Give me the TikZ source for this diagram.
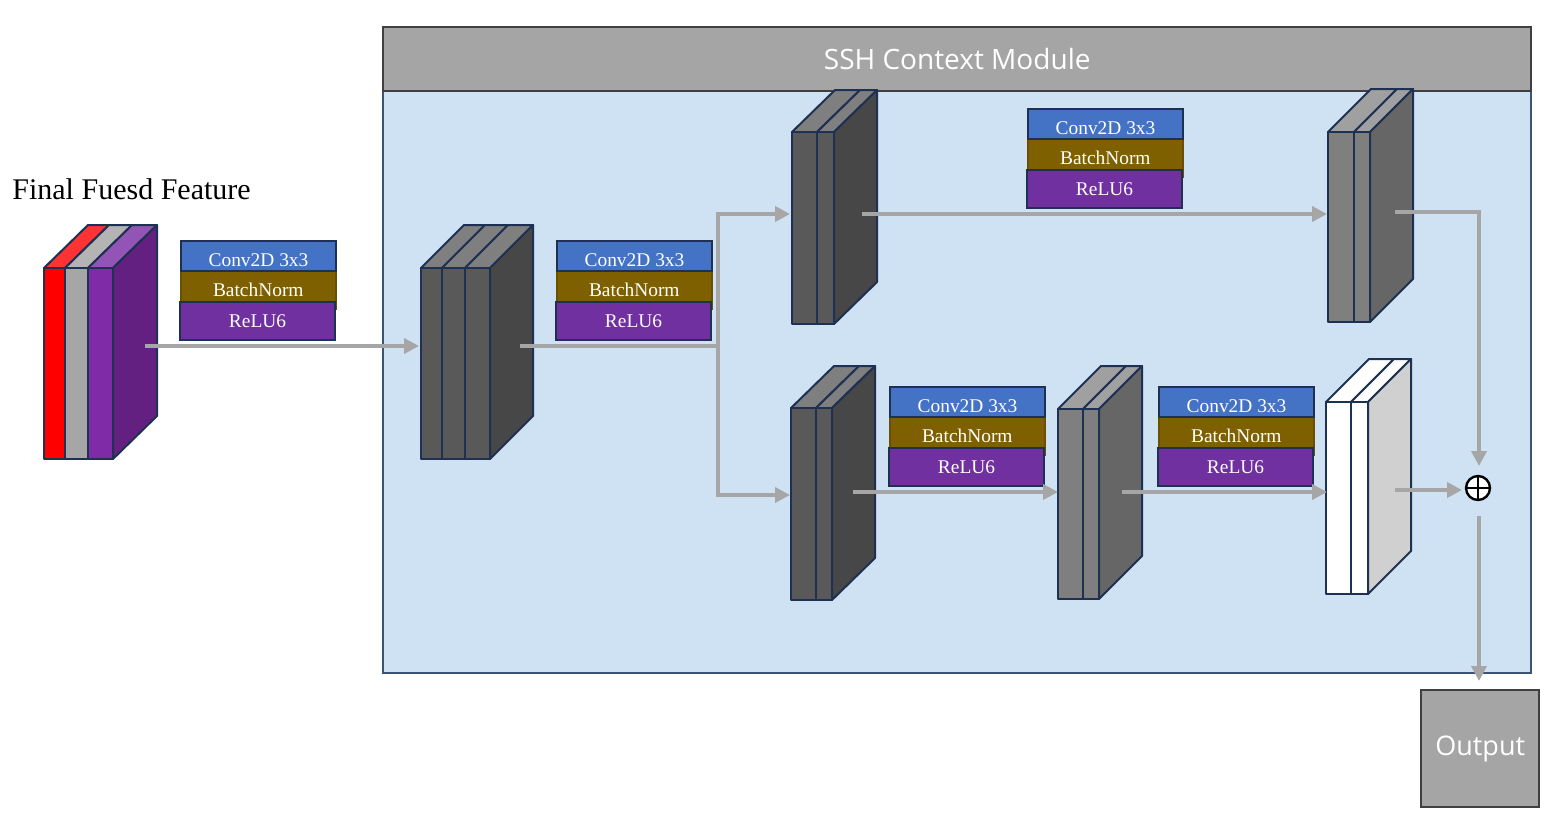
\documentclass[tikz,border=0pt]{standalone}
\usepackage{fontspec}
\setmainfont{Liberation Serif}
\newfontfamily\osans{Open Sans}
\usetikzlibrary{arrows.meta}
\definecolor{bodyblue}{HTML}{CFE2F3}
\definecolor{headgray}{HTML}{A5A5A5}
\definecolor{headline}{HTML}{404040}
\definecolor{bodyline}{HTML}{3D5373}
\definecolor{arrgray}{HTML}{A6A6A6}
\definecolor{navy}{HTML}{1F3153}
\definecolor{convblue}{HTML}{4472C4}
\definecolor{bnbrown}{HTML}{7F6000}
\definecolor{bnline}{HTML}{6A5000}
\definecolor{relupurple}{HTML}{7030A0}
\definecolor{dkfront}{HTML}{595959}
\definecolor{dktop}{HTML}{7F7F7F}
\definecolor{dkside}{HTML}{474747}
\definecolor{mdfront}{HTML}{7F7F7F}
\definecolor{mdtop}{HTML}{A0A0A0}
\definecolor{mdside}{HTML}{666666}
\definecolor{ltside}{HTML}{D0D0D0}
\definecolor{inred}{HTML}{FF0000}
\definecolor{inredtop}{HTML}{FF3333}
\definecolor{ingray}{HTML}{A6A6A6}
\definecolor{ingraytop}{HTML}{B4B4B4}
\definecolor{inpurple}{HTML}{7F2AA6}
\definecolor{inpurpletop}{HTML}{9355B5}
\definecolor{inpurpleside}{HTML}{632080}
\tikzset{
  slabline/.style={draw=navy, line width=1pt, line join=round},
  conn/.style={draw=arrgray, line width=2pt},
  arr/.style={conn, -{Triangle[length=7.5pt,width=7.5pt]}},
  layerbox/.style={anchor=north west, inner sep=0, minimum width=77.5pt, text=white, font=\fontsize{9.7}{11}\selectfont},
}
% one slab: x0, x1, ytop, ybottom, dx, dy, front colour, top colour
\newcommand\slabpiece[8]{%
  \filldraw[fill=#8,slabline] (#1,#3) -- (#2,#3) -- ++(#5,-#6) -- (#1+#5,#3-#6) -- cycle;
  \filldraw[fill=#7,slabline] (#1,#3) rectangle (#2,#4);}
% side face: x1, ytop, ybottom, dx, dy, colour
\newcommand\slabside[6]{%
  \filldraw[fill=#6,slabline] (#1,#2) -- ++(#4,-#5) -- (#1+#4,#3-#5) -- (#1,#3) -- cycle;}
% layer group: name suffix, x, y (top-left of Conv box)
\newcommand\layergroup[3]{%
  \node[layerbox, fill=bnbrown, draw=bnline, line width=0.8pt, minimum height=19pt] (bn#1) at (#2,#3+30) {BatchNorm};
  \node[layerbox, fill=convblue, draw=navy, line width=1pt, minimum height=15pt] (cv#1) at (#2,#3) {\raisebox{-5.4pt}[0pt][0pt]{Conv2D 3x3}};
  \node[layerbox, fill=relupurple, draw=navy, line width=1pt, minimum height=19pt] (rl#1) at (#2-1,#3+61) {ReLU6};}
\begin{document}
\begin{tikzpicture}[x=0.5pt,y=-0.5pt]
\useasboundingbox (0,0) rectangle (1546,815);
% module
\node[draw=bodyline, fill=bodyblue, line width=1pt, anchor=north west, inner sep=0, minimum width=574pt, minimum height=323pt] (module) at (382,26) {};
\node[draw=headline, fill=headgray, line width=1.2pt, anchor=north west, inner sep=0, minimum width=574pt, minimum height=32pt, text=white, font=\osans\fontsize{14}{16}\selectfont] (header) at (382,26) {SSH Context Module};
% title
\node[anchor=base west, inner sep=0, font=\fontsize{15}{18}\selectfont] (title) at (12,199) {Final Fuesd Feature};
% input feature
\slabpiece{44}{65}{268}{459}{44}{43}{inred}{inredtop}
\slabpiece{65}{88}{268}{459}{44}{43}{ingray}{ingraytop}
\slabpiece{88}{113}{268}{459}{44}{43}{inpurple}{inpurpletop}
\slabside{113}{268}{459}{44}{43}{inpurpleside}
% stack 2
\slabpiece{421}{442}{268}{459}{43}{43}{dkfront}{dktop}
\slabpiece{442}{465}{268}{459}{43}{43}{dkfront}{dktop}
\slabpiece{465}{490}{268}{459}{43}{43}{dkfront}{dktop}
\slabside{490}{268}{459}{43}{43}{dkside}
% stack 3 (top branch, first)
\slabpiece{792}{817}{132}{324}{43}{42}{dkfront}{dktop}
\slabpiece{817}{834}{132}{324}{43}{42}{dkfront}{dktop}
\slabside{834}{132}{324}{43}{42}{dkside}
% stack top right
\slabpiece{1328}{1354}{132}{322}{43}{43}{mdfront}{mdtop}
\slabpiece{1354}{1370}{132}{322}{43}{43}{mdfront}{mdtop}
\slabside{1370}{132}{322}{43}{43}{mdside}
% bottom A
\slabpiece{791}{816}{408}{600}{43}{42}{dkfront}{dktop}
\slabpiece{816}{832}{408}{600}{43}{42}{dkfront}{dktop}
\slabside{832}{408}{600}{43}{42}{dkside}
% bottom B
\slabpiece{1058}{1083}{409}{599}{43}{43}{mdfront}{mdtop}
\slabpiece{1083}{1099}{409}{599}{43}{43}{mdfront}{mdtop}
\slabside{1099}{409}{599}{43}{43}{mdside}
% bottom C
\slabpiece{1326}{1351}{402}{594}{43}{43}{white}{white}
\slabpiece{1351}{1368}{402}{594}{43}{43}{white}{white}
\slabside{1368}{402}{594}{43}{43}{ltside}
% layer groups
\layergroup{a}{180}{240}
\layergroup{b}{556}{240}
\layergroup{c}{1027}{108}
\layergroup{d}{889}{386}
\layergroup{e}{1158}{386}
% plus and output
\node[circle, draw=black, fill=white, line width=1.2pt, minimum size=12pt, inner sep=0,
  path picture={\draw[line width=1.1pt] (path picture bounding box.north) -- (path picture bounding box.south) (path picture bounding box.west) -- (path picture bounding box.east);}] (plus) at (1478,488) {};
\node[draw=headline, fill=headgray, line width=1.2pt, anchor=north west, inner sep=0, minimum width=59pt, minimum height=58.5pt, text=white, font=\osans\fontsize{13.5}{16}\selectfont] (output) at (1420,689) {Output};
% connector coordinates
\coordinate (inout) at (145,346);
\coordinate (s2in) at (419,346);
\coordinate (s2out) at (520,346);
\coordinate (split) at (718,346);
\coordinate (s3in) at (790,214);
\coordinate (s4in) at (790,495);
\coordinate (s3out) at (862,214);
\coordinate (s5in) at (1327,214);
\coordinate (s5out) at (1395,212);
\coordinate (plustop) at (1479,466);
\coordinate (s4out) at (853,492);
\coordinate (s6in) at (1058,492);
\coordinate (s6out) at (1122,492);
\coordinate (s7in) at (1327,492);
\coordinate (s7out) at (1395,490);
\coordinate (plusleft) at (1462,490);
\coordinate (plusbot) at (1479,516);
\coordinate (outtop) at (1479,681);
% connectors
\draw[arr] (inout) -- (s2in);
\draw[conn] (s2out) -- (split);
\draw[arr] (split) |- (s3in);
\draw[arr] (split) |- (s4in);
\draw[arr] (s3out) -- (s5in);
\draw[arr] (s5out) -| (plustop);
\draw[arr] (s4out) -- (s6in);
\draw[arr] (s6out) -- (s7in);
\draw[arr] (s7out) -- (plusleft);
\draw[arr] (plusbot) -- (outtop);
\end{tikzpicture}
\end{document}
